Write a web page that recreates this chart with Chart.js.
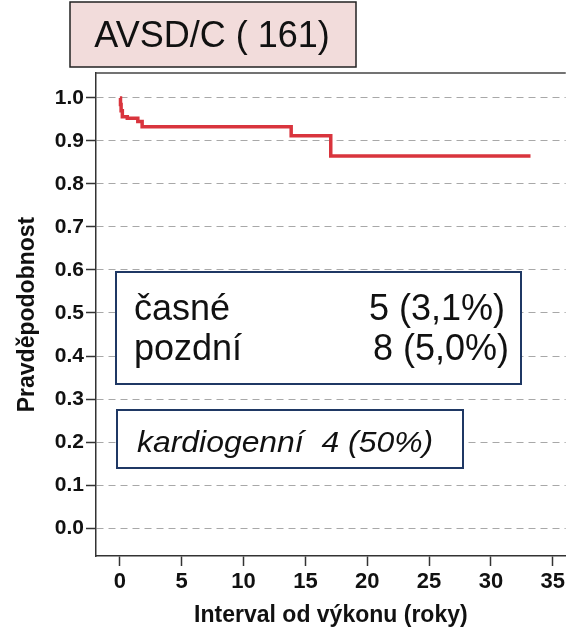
<!DOCTYPE html>
<html lang="cs">
<head>
<meta charset="utf-8">
<title>AVSD/C (161)</title>
<script src="https://cdn.jsdelivr.net/npm/chart.js@4/dist/chart.umd.min.js"></script>
<style>
  html, body { margin: 0; padding: 0; background: #fff; }
  #wrap { width: 568px; height: 629px; }
</style>
</head>
<body>
<div id="wrap"><canvas id="kmChart" width="568" height="629"></canvas></div>
<script>
// ===== Data =====
const casRoky  = [0, 0.05, 0.1, 0.2, 0.6, 1.45, 1.8, 13.85, 17.05, 33.2];
const preziti  = [1.0, 0.985, 0.97, 0.956, 0.953, 0.945, 0.933, 0.912, 0.865, 0.865];
const xTicks   = [0, 5, 10, 15, 20, 25, 30, 35];
const yTicks   = [0.0, 0.1, 0.2, 0.3, 0.4, 0.5, 0.6, 0.7, 0.8, 0.9, 1.0];

const nadpis     = 'AVSD/C ( 161)';
const radkyBox   = [['časné', '5 (3,1%)'], ['pozdní', '8 (5,0%)']];
const textBox2   = 'kardiogenní  4 (50%)';

const FONT = '"Liberation Sans", Arial, sans-serif';
const TMAVA = '#333';

// ===== Popisky, rámečky a nadpis =====
const prekryv = {
  id: 'prekryv',
  afterDraw(chart) {
    const ctx = chart.ctx;
    const a = chart.chartArea;
    ctx.save();

    // horní linka rámu grafu
    ctx.strokeStyle = '#444';
    ctx.lineWidth = 1.5;
    ctx.beginPath();
    ctx.moveTo(a.left, a.top);
    ctx.lineTo(a.right, a.top);
    ctx.stroke();

    // nadpis v růžovém rámečku
    ctx.fillStyle = '#f2dcdb';
    ctx.fillRect(70, 2, 286, 65);
    ctx.strokeStyle = '#222';
    ctx.lineWidth = 1.5;
    ctx.strokeRect(70, 2, 286, 65);
    ctx.fillStyle = '#111';
    ctx.font = '36px ' + FONT;
    ctx.textAlign = 'center';
    ctx.textBaseline = 'alphabetic';
    ctx.fillText(nadpis, 212, 47);

    // rámeček s počty
    ctx.fillStyle = '#fff';
    ctx.fillRect(116, 272, 405, 112);
    ctx.strokeStyle = '#1f3864';
    ctx.lineWidth = 2;
    ctx.strokeRect(116, 272, 405, 112);
    ctx.fillStyle = '#111';
    ctx.font = '36px ' + FONT;
    ctx.textAlign = 'left';
    ctx.fillText(radkyBox[0][0], 134, 320);
    ctx.fillText(radkyBox[1][0], 134, 360);
    ctx.fillText(radkyBox[0][1], 369, 320);
    ctx.fillText(radkyBox[1][1], 373, 360);

    // rámeček kardiogenní
    ctx.fillStyle = '#fff';
    ctx.fillRect(117, 410, 346, 58);
    ctx.strokeRect(117, 410, 346, 58);
    ctx.fillStyle = '#111';
    ctx.font = 'italic 29px ' + FONT;
    ctx.save();
    ctx.translate(137, 452);
    ctx.scale(1.1, 1);
    ctx.fillText(textBox2, 0, 0);
    ctx.restore();

    ctx.restore();
  }
};

const ctx = document.getElementById('kmChart').getContext('2d');
const chart = new Chart(ctx, {
  type: 'line',
  data: {
    datasets: [{
      data: casRoky.map((t, i) => ({ x: t, y: preziti[i] })),
      borderColor: '#d9343d',
      borderWidth: 3.5,
      pointRadius: 0,
      stepped: 'before',
      fill: false
    }]
  },
  options: {
    responsive: false,
    animation: false,
    devicePixelRatio: 1,
    layout: { padding: { top: 73, right: 0, bottom: 0, left: 0 } },
    plugins: { legend: { display: false }, tooltip: { enabled: false } },
    scales: {
      x: {
        type: 'linear',
        min: -1.93,
        max: 36.05,
        afterBuildTicks: s => { s.ticks = xTicks.map(v => ({ value: v })); },
        afterFit: s => { s.height = 73; },
        grid: {
          display: true, drawOnChartArea: false,
          tickLength: 10, tickColor: TMAVA, tickWidth: 1.5
        },
        border: { display: true, color: TMAVA, width: 1.5 },
        ticks: {
          padding: 3, color: '#111', maxRotation: 0, autoSkip: false,
          font: { family: FONT, size: 22, weight: 'bold' },
          callback: v => String(v)
        },
        title: {
          display: true, text: 'Interval od výkonu (roky)', color: '#111',
          padding: { top: 0, bottom: 0 },
          font: { family: FONT, size: 23, weight: 'bold' }
        }
      },
      y: {
        type: 'linear',
        min: -0.065,
        max: 1.058,
        afterBuildTicks: s => { s.ticks = yTicks.map(v => ({ value: v })); },
        afterFit: s => { s.width = 96; },
        grid: {
          display: true, drawOnChartArea: true,
          color: '#a8a8a8', lineWidth: 1,
          tickLength: 10, tickColor: TMAVA, tickWidth: 1.5, tickBorderDash: []
        },
        border: { display: true, color: TMAVA, width: 1.5, dash: [7, 5] },
        ticks: {
          padding: 2, color: '#111', autoSkip: false,
          font: { family: FONT, size: 21, weight: 'bold' },
          callback: v => Number(v).toFixed(1)
        },
        title: {
          display: true, text: 'Pravděpodobnost', color: '#111',
          padding: { top: 14, bottom: 0 },
          font: { family: FONT, size: 23, weight: 'bold' }
        }
      }
    }
  },
  plugins: [prekryv]
});
</script>
</body>
</html>
